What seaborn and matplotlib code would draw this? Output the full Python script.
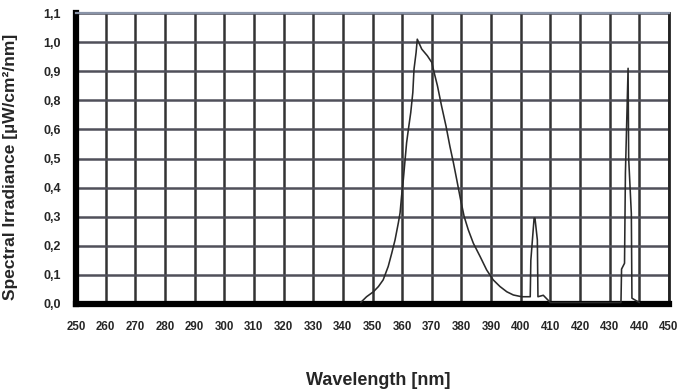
import numpy as np
import pandas as pd
import matplotlib
matplotlib.use("Agg")
import matplotlib.pyplot as plt
import seaborn as sns

# ---- data ----
wavelength_nm = [
    346.0, 348.0, 350.3, 352.0, 353.6, 355.3, 356.5, 357.6, 358.7, 359.3,
    359.8, 360.4, 361.0, 361.5, 362.1, 362.9, 363.6, 364.0, 364.7, 365.1,
    366.6, 368.5, 370.0, 370.8, 371.9, 373.3, 374.8, 376.1, 377.3, 378.4,
    379.7, 380.9, 382.3, 384.0, 386.3, 388.5, 390.7, 393.0, 395.3, 397.5,
    400.3, 403.2, 403.4, 404.5, 404.8, 405.6, 405.8, 407.6, 410.0, 433.8,
    434.0, 435.0, 435.3, 436.2, 436.4, 437.3, 437.5, 440.0,
]
irradiance = [
    0.005, 0.025, 0.042, 0.060, 0.083, 0.129, 0.175, 0.220, 0.278, 0.313,
    0.370, 0.428, 0.497, 0.554, 0.600, 0.658, 0.727, 0.807, 0.864, 0.910,
    0.876, 0.853, 0.830, 0.795, 0.750, 0.680, 0.611, 0.542, 0.485, 0.428,
    0.359, 0.301, 0.255, 0.209, 0.163, 0.117, 0.083, 0.060, 0.042, 0.031,
    0.025, 0.025, 0.150, 0.295, 0.295, 0.220, 0.025, 0.030, 0.005, 0.005,
    0.120, 0.140, 0.450, 0.810, 0.500, 0.310, 0.020, 0.005,
]
x_ticks = [250, 260, 270, 280, 290, 300, 310, 320, 330, 340, 350,
           360, 370, 380, 390, 400, 410, 420, 430, 440, 450]
y_ticks = [0.0, 0.1, 0.2, 0.3, 0.4, 0.5, 0.6, 0.7, 0.8, 0.9, 1.0]
y_tick_labels = ["0,0", "0,1", "0,2", "0,3", "0,4", "0,5",
                 "0,6", "0,8", "0,9", "1,0", "1,1"]
x_label = "Wavelength [nm]"
y_label = "Spectral Irradiance [µW/cm²/nm]"

sns.set_theme(style="white")
plt.rcParams["font.family"] = ["Liberation Sans", "DejaVu Sans"]

fig = plt.figure(figsize=(6.82, 3.90), dpi=100)
ax = fig.add_axes([76 / 682, 1 - 304 / 390, (669 - 76) / 682, (304 - 13) / 390])

df = pd.DataFrame({"wl": wavelength_nm, "irr": irradiance})
sns.lineplot(data=df, x="wl", y="irr", ax=ax, color="#2a2a2a",
             linewidth=1.15, sort=False, estimator=None, zorder=5)

ax.set_xlim(250, 450)
ax.set_ylim(0, 1.0)
ax.set_xticks(x_ticks)
ax.set_xticklabels([str(v) for v in x_ticks], fontsize=8.3, fontweight="bold")
ax.set_yticks(y_ticks)
ax.set_yticklabels(y_tick_labels, fontsize=9, fontweight="bold")
ax.tick_params(axis="x", length=0, pad=12)
ax.tick_params(axis="y", length=0, pad=11)

ax.grid(True, axis="x", color="#333333", linewidth=1.8, zorder=1)
ax.grid(True, axis="y", color="#50505a", linewidth=1.8, zorder=1)
ax.set_axisbelow(True)

for side in ["left", "bottom"]:
    ax.spines[side].set_visible(True)
    ax.spines[side].set_color("black")
    ax.spines[side].set_linewidth(4.5)
ax.spines["right"].set_color("#222222")
ax.spines["right"].set_linewidth(2.0)
ax.spines["top"].set_color("#8a94a8")
ax.spines["top"].set_linewidth(1.6)

ax.set_xlabel(x_label, fontsize=13, fontweight="bold")
ax.set_ylabel(y_label, fontsize=12.5, fontweight="bold")
ax.xaxis.set_label_coords(0.51, -0.235)
ax.yaxis.set_label_coords(-0.097, 0.47)

fig.savefig("out.png", dpi=100, facecolor="white")
